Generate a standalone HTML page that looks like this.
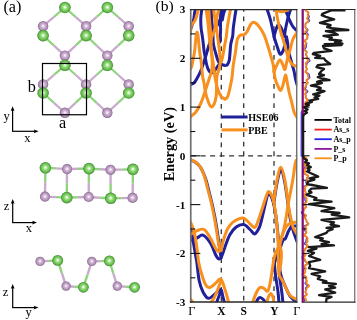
<!DOCTYPE html>
<html><head><meta charset="utf-8"><style>
html,body{margin:0;padding:0;background:#fff;}
body{width:357px;height:320px;overflow:hidden;position:relative;}
svg{position:absolute;left:0;top:0;will-change:transform;}
text{font-family:"Liberation Serif",serif;}
</style></head><body>
<svg width="357" height="320" viewBox="0 0 357 320">
<defs>
<radialGradient id="gG" cx="0.5" cy="0.5" r="0.5" fx="0.5" fy="0.47">
<stop offset="0" stop-color="#ffffff"/><stop offset="0.12" stop-color="#e4f8dc"/><stop offset="0.38" stop-color="#94dc7c"/><stop offset="0.72" stop-color="#6cbf52"/><stop offset="0.9" stop-color="#50a03e"/><stop offset="1" stop-color="#3c7e2e"/>
</radialGradient>
<radialGradient id="gP" cx="0.5" cy="0.5" r="0.5" fx="0.5" fy="0.47">
<stop offset="0" stop-color="#ffffff"/><stop offset="0.12" stop-color="#f2e8f4"/><stop offset="0.38" stop-color="#d0b4d4"/><stop offset="0.72" stop-color="#b494ba"/><stop offset="0.9" stop-color="#987a9e"/><stop offset="1" stop-color="#7c5e84"/>
</radialGradient>
</defs>
<rect width="357" height="320" fill="#fff"/>
<line x1="64.9" y1="7.5" x2="54.0" y2="16.9" stroke="#8fd47c" stroke-width="2.2"/><line x1="54.0" y1="16.9" x2="43.1" y2="26.2" stroke="#c9a9cd" stroke-width="2.2"/><line x1="64.9" y1="7.5" x2="75.5" y2="16.9" stroke="#8fd47c" stroke-width="2.2"/><line x1="75.5" y1="16.9" x2="86.1" y2="26.2" stroke="#c9a9cd" stroke-width="2.2"/><line x1="107.3" y1="7.5" x2="96.7" y2="16.9" stroke="#8fd47c" stroke-width="2.2"/><line x1="96.7" y1="16.9" x2="86.1" y2="26.2" stroke="#c9a9cd" stroke-width="2.2"/><line x1="107.3" y1="7.5" x2="118.0" y2="16.9" stroke="#8fd47c" stroke-width="2.2"/><line x1="118.0" y1="16.9" x2="128.7" y2="26.2" stroke="#c9a9cd" stroke-width="2.2"/><line x1="43.1" y1="35.6" x2="54.0" y2="45.6" stroke="#8fd47c" stroke-width="2.2"/><line x1="54.0" y1="45.6" x2="64.9" y2="55.6" stroke="#c9a9cd" stroke-width="2.2"/><line x1="86.1" y1="35.6" x2="75.5" y2="45.6" stroke="#8fd47c" stroke-width="2.2"/><line x1="75.5" y1="45.6" x2="64.9" y2="55.6" stroke="#c9a9cd" stroke-width="2.2"/><line x1="86.1" y1="35.6" x2="96.7" y2="45.6" stroke="#8fd47c" stroke-width="2.2"/><line x1="96.7" y1="45.6" x2="107.3" y2="55.6" stroke="#c9a9cd" stroke-width="2.2"/><line x1="128.7" y1="35.6" x2="118.0" y2="45.6" stroke="#8fd47c" stroke-width="2.2"/><line x1="118.0" y1="45.6" x2="107.3" y2="55.6" stroke="#c9a9cd" stroke-width="2.2"/><line x1="64.9" y1="65.3" x2="54.0" y2="74.8" stroke="#8fd47c" stroke-width="2.2"/><line x1="54.0" y1="74.8" x2="43.1" y2="84.4" stroke="#c9a9cd" stroke-width="2.2"/><line x1="64.9" y1="65.3" x2="75.5" y2="74.8" stroke="#8fd47c" stroke-width="2.2"/><line x1="75.5" y1="74.8" x2="86.1" y2="84.4" stroke="#c9a9cd" stroke-width="2.2"/><line x1="107.3" y1="65.3" x2="96.7" y2="74.8" stroke="#8fd47c" stroke-width="2.2"/><line x1="96.7" y1="74.8" x2="86.1" y2="84.4" stroke="#c9a9cd" stroke-width="2.2"/><line x1="107.3" y1="65.3" x2="118.0" y2="74.8" stroke="#8fd47c" stroke-width="2.2"/><line x1="118.0" y1="74.8" x2="128.7" y2="84.4" stroke="#c9a9cd" stroke-width="2.2"/><line x1="43.1" y1="93.0" x2="54.0" y2="102.9" stroke="#8fd47c" stroke-width="2.2"/><line x1="54.0" y1="102.9" x2="64.9" y2="112.8" stroke="#c9a9cd" stroke-width="2.2"/><line x1="86.1" y1="93.0" x2="75.5" y2="102.9" stroke="#8fd47c" stroke-width="2.2"/><line x1="75.5" y1="102.9" x2="64.9" y2="112.8" stroke="#c9a9cd" stroke-width="2.2"/><line x1="86.1" y1="93.0" x2="96.7" y2="102.9" stroke="#8fd47c" stroke-width="2.2"/><line x1="96.7" y1="102.9" x2="107.3" y2="112.8" stroke="#c9a9cd" stroke-width="2.2"/><line x1="128.7" y1="93.0" x2="118.0" y2="102.9" stroke="#8fd47c" stroke-width="2.2"/><line x1="118.0" y1="102.9" x2="107.3" y2="112.8" stroke="#c9a9cd" stroke-width="2.2"/><circle cx="43.1" cy="26.2" r="5.2" fill="url(#gP)"/><circle cx="86.1" cy="26.2" r="5.2" fill="url(#gP)"/><circle cx="128.7" cy="26.2" r="5.2" fill="url(#gP)"/><circle cx="64.9" cy="55.6" r="5.2" fill="url(#gP)"/><circle cx="107.3" cy="55.6" r="5.2" fill="url(#gP)"/><circle cx="43.1" cy="84.4" r="5.2" fill="url(#gP)"/><circle cx="86.1" cy="84.4" r="5.2" fill="url(#gP)"/><circle cx="128.7" cy="84.4" r="5.2" fill="url(#gP)"/><circle cx="64.9" cy="112.8" r="5.2" fill="url(#gP)"/><circle cx="107.3" cy="112.8" r="5.2" fill="url(#gP)"/><circle cx="64.9" cy="7.5" r="5.8" fill="url(#gG)"/><circle cx="107.3" cy="7.5" r="5.8" fill="url(#gG)"/><circle cx="43.1" cy="35.6" r="5.8" fill="url(#gG)"/><circle cx="86.1" cy="35.6" r="5.8" fill="url(#gG)"/><circle cx="128.7" cy="35.6" r="5.8" fill="url(#gG)"/><circle cx="64.9" cy="65.3" r="5.8" fill="url(#gG)"/><circle cx="107.3" cy="65.3" r="5.8" fill="url(#gG)"/><circle cx="43.1" cy="93.0" r="5.8" fill="url(#gG)"/><circle cx="86.1" cy="93.0" r="5.8" fill="url(#gG)"/><circle cx="128.7" cy="93.0" r="5.8" fill="url(#gG)"/><rect x="42.5" y="63.5" width="44" height="51.25" fill="none" stroke="#000" stroke-width="1.2"/><line x1="45.4" y1="167.8" x2="45.2" y2="182.2" stroke="#8fd47c" stroke-width="2.4"/><line x1="45.2" y1="182.2" x2="45.0" y2="196.6" stroke="#c9a9cd" stroke-width="2.4"/><line x1="67.1" y1="169.1" x2="66.9" y2="183.3" stroke="#c9a9cd" stroke-width="2.4"/><line x1="66.9" y1="183.3" x2="66.8" y2="197.6" stroke="#8fd47c" stroke-width="2.4"/><line x1="89.0" y1="168.6" x2="88.8" y2="182.8" stroke="#8fd47c" stroke-width="2.4"/><line x1="88.8" y1="182.8" x2="88.7" y2="197.0" stroke="#c9a9cd" stroke-width="2.4"/><line x1="110.5" y1="169.8" x2="110.6" y2="184.1" stroke="#c9a9cd" stroke-width="2.4"/><line x1="110.6" y1="184.1" x2="110.7" y2="198.3" stroke="#8fd47c" stroke-width="2.4"/><line x1="132.9" y1="169.3" x2="132.8" y2="183.6" stroke="#8fd47c" stroke-width="2.4"/><line x1="132.8" y1="183.6" x2="132.6" y2="197.9" stroke="#c9a9cd" stroke-width="2.4"/><line x1="45.4" y1="167.8" x2="56.2" y2="168.4" stroke="#8fd47c" stroke-width="2.4"/><line x1="56.2" y1="168.4" x2="67.1" y2="169.1" stroke="#c9a9cd" stroke-width="2.4"/><line x1="67.1" y1="169.1" x2="78.0" y2="168.8" stroke="#c9a9cd" stroke-width="2.4"/><line x1="78.0" y1="168.8" x2="89.0" y2="168.6" stroke="#8fd47c" stroke-width="2.4"/><line x1="89.0" y1="168.6" x2="99.8" y2="169.2" stroke="#8fd47c" stroke-width="2.4"/><line x1="99.8" y1="169.2" x2="110.5" y2="169.8" stroke="#c9a9cd" stroke-width="2.4"/><line x1="110.5" y1="169.8" x2="121.7" y2="169.6" stroke="#c9a9cd" stroke-width="2.4"/><line x1="121.7" y1="169.6" x2="132.9" y2="169.3" stroke="#8fd47c" stroke-width="2.4"/><line x1="45.0" y1="196.6" x2="55.9" y2="197.1" stroke="#c9a9cd" stroke-width="2.4"/><line x1="55.9" y1="197.1" x2="66.8" y2="197.6" stroke="#8fd47c" stroke-width="2.4"/><line x1="66.8" y1="197.6" x2="77.8" y2="197.3" stroke="#8fd47c" stroke-width="2.4"/><line x1="77.8" y1="197.3" x2="88.7" y2="197.0" stroke="#c9a9cd" stroke-width="2.4"/><line x1="88.7" y1="197.0" x2="99.7" y2="197.7" stroke="#c9a9cd" stroke-width="2.4"/><line x1="99.7" y1="197.7" x2="110.7" y2="198.3" stroke="#8fd47c" stroke-width="2.4"/><line x1="110.7" y1="198.3" x2="121.7" y2="198.1" stroke="#8fd47c" stroke-width="2.4"/><line x1="121.7" y1="198.1" x2="132.6" y2="197.9" stroke="#c9a9cd" stroke-width="2.4"/><circle cx="45.4" cy="167.8" r="5.8" fill="url(#gG)"/><circle cx="67.1" cy="169.1" r="5.1" fill="url(#gP)"/><circle cx="89.0" cy="168.6" r="5.8" fill="url(#gG)"/><circle cx="110.5" cy="169.8" r="5.1" fill="url(#gP)"/><circle cx="132.9" cy="169.3" r="5.8" fill="url(#gG)"/><circle cx="45.0" cy="196.6" r="5.1" fill="url(#gP)"/><circle cx="66.8" cy="197.6" r="5.8" fill="url(#gG)"/><circle cx="88.7" cy="197.0" r="5.1" fill="url(#gP)"/><circle cx="110.7" cy="198.3" r="5.8" fill="url(#gG)"/><circle cx="132.6" cy="197.9" r="5.1" fill="url(#gP)"/><line x1="40.1" y1="261.4" x2="48.9" y2="260.9" stroke="#c9a9cd" stroke-width="2.4"/><line x1="48.9" y1="260.9" x2="57.7" y2="260.4" stroke="#8fd47c" stroke-width="2.4"/><line x1="57.7" y1="260.4" x2="61.9" y2="273.2" stroke="#8fd47c" stroke-width="2.4"/><line x1="61.9" y1="273.2" x2="66.1" y2="286.1" stroke="#c9a9cd" stroke-width="2.4"/><line x1="66.1" y1="286.1" x2="74.8" y2="286.7" stroke="#c9a9cd" stroke-width="2.4"/><line x1="74.8" y1="286.7" x2="83.4" y2="287.3" stroke="#8fd47c" stroke-width="2.4"/><line x1="83.4" y1="287.3" x2="87.6" y2="274.4" stroke="#8fd47c" stroke-width="2.4"/><line x1="87.6" y1="274.4" x2="91.8" y2="261.4" stroke="#c9a9cd" stroke-width="2.4"/><line x1="91.8" y1="261.4" x2="100.6" y2="261.1" stroke="#c9a9cd" stroke-width="2.4"/><line x1="100.6" y1="261.1" x2="109.4" y2="260.9" stroke="#8fd47c" stroke-width="2.4"/><line x1="109.4" y1="260.9" x2="113.3" y2="273.5" stroke="#8fd47c" stroke-width="2.4"/><line x1="113.3" y1="273.5" x2="117.3" y2="286.1" stroke="#c9a9cd" stroke-width="2.4"/><line x1="117.3" y1="286.1" x2="125.9" y2="286.7" stroke="#c9a9cd" stroke-width="2.4"/><line x1="125.9" y1="286.7" x2="134.6" y2="287.3" stroke="#8fd47c" stroke-width="2.4"/><circle cx="40.1" cy="261.4" r="4.7" fill="url(#gP)"/><circle cx="57.7" cy="260.4" r="5.4" fill="url(#gG)"/><circle cx="66.1" cy="286.1" r="4.7" fill="url(#gP)"/><circle cx="83.4" cy="287.3" r="5.4" fill="url(#gG)"/><circle cx="91.8" cy="261.4" r="4.7" fill="url(#gP)"/><circle cx="109.4" cy="260.9" r="5.4" fill="url(#gG)"/><circle cx="117.3" cy="286.1" r="4.7" fill="url(#gP)"/><circle cx="134.6" cy="287.3" r="5.4" fill="url(#gG)"/><g stroke="#000" stroke-width="1.2" fill="none"><line x1="12.6" y1="131.3" x2="12.6" y2="109.3"/><line x1="12.0" y1="131.3" x2="35.6" y2="131.3"/></g><path d="M12.6 106.3 L10.7 111.1 L12.6 110.3 L14.5 111.1 Z" fill="#000"/><path d="M38.6 131.3 L33.8 129.4 L34.6 131.3 L33.8 133.2 Z" fill="#000"/><g stroke="#000" stroke-width="1.2" fill="none"><line x1="12.7" y1="222.6" x2="12.7" y2="202.0"/><line x1="12.1" y1="222.6" x2="34.0" y2="222.6"/></g><path d="M12.7 199.0 L10.8 203.8 L12.7 203.0 L14.6 203.8 Z" fill="#000"/><path d="M37.0 222.6 L32.2 220.7 L33.0 222.6 L32.2 224.5 Z" fill="#000"/><g stroke="#000" stroke-width="1.2" fill="none"><line x1="12.7" y1="307.6" x2="12.7" y2="287.0"/><line x1="12.1" y1="307.6" x2="35.5" y2="307.6"/></g><path d="M12.7 284.0 L10.8 288.8 L12.7 288.0 L14.6 288.8 Z" fill="#000"/><path d="M38.5 307.6 L33.7 305.7 L34.5 307.6 L33.7 309.5 Z" fill="#000"/><g font-size="12.5" fill="#000"><text x="3.4" y="119.6">y</text><text x="24.2" y="141.6">x</text><text x="3.8" y="209.8">z</text><text x="25.8" y="232.3">x</text><text x="2.8" y="296.2">z</text><text x="25.5" y="316.4">y</text></g><g font-size="16.2" fill="#000"><text x="3.4" y="11.6">(a)</text><text x="155.6" y="11.2" font-size="15.6">(b)</text><text x="27.8" y="91.5">b</text><text x="58.9" y="127.9">a</text></g><g stroke="#333" stroke-width="1.3" fill="none"><line x1="221.3" y1="9.5" x2="221.3" y2="302.2" stroke-dasharray="4.8 4.83" stroke-dashoffset="1.8"/><line x1="243.7" y1="9.5" x2="243.7" y2="302.2" stroke-dasharray="4.8 4.83" stroke-dashoffset="2.6"/><line x1="274.0" y1="9.5" x2="274.0" y2="302.2" stroke-dasharray="4.8 4.83" stroke-dashoffset="2.6"/><line x1="190.5" y1="155.9" x2="297.2" y2="155.9" stroke-dasharray="5 4.5" stroke-dashoffset="8.9"/></g><clipPath id="bclip"><rect x="190.5" y="9.5" width="106.7" height="292.7"/></clipPath><g fill="none" stroke-width="3.0" stroke-linecap="round" stroke-linejoin="round" clip-path="url(#bclip)"><path d="M190.5 159.6 C191.3 160.1 193.9 161.1 195.5 162.3 C197.1 163.5 198.8 165.0 200.2 166.9 C201.5 168.8 202.6 171.2 203.6 173.5 C204.6 175.8 205.4 178.0 206.3 181.0 C207.2 184.0 207.9 187.0 209.0 191.5 C210.1 196.0 211.7 202.1 213.0 208.0 C214.3 213.9 215.6 221.0 216.6 227.0 C217.6 233.0 218.4 239.5 219.0 244.0 C219.6 248.5 220.0 251.8 220.4 254.0 C220.8 256.2 221.2 256.9 221.3 257.5" stroke="#20209a"/><path d="M190.5 240.8 C191.5 240.3 194.7 239.2 196.8 238.2 C198.8 237.3 200.7 234.3 203.0 235.1 C205.3 235.9 208.4 240.0 210.5 243.2 C212.6 246.5 214.2 251.9 215.5 254.5 C216.8 257.1 217.6 258.5 218.6 258.9 C219.6 259.3 220.2 259.0 221.3 257.0 C222.4 255.0 223.6 250.8 225.0 247.0 C226.4 243.2 228.1 237.8 230.0 234.5 C231.9 231.2 234.0 228.7 236.2 227.0 C238.5 225.3 241.5 224.1 243.8 224.5 C246.0 224.9 248.2 227.9 250.0 229.5 C251.8 231.1 253.2 233.7 254.4 233.9 C255.7 234.1 256.6 232.1 257.5 230.8 C258.4 229.4 259.1 228.5 260.0 225.8 C260.9 223.0 262.0 218.1 263.0 214.0 C264.0 209.9 265.1 204.4 266.0 201.0 C266.9 197.6 267.3 194.2 268.2 193.5 C269.1 192.8 270.6 195.2 271.5 197.0 C272.4 198.8 273.4 202.8 273.8 204.0" stroke="#20209a"/><path d="M190.5 226.0 C190.9 228.3 192.2 235.2 193.0 240.0 C193.8 244.8 194.9 251.3 195.5 255.0 C196.1 258.7 196.1 257.7 196.8 262.0 C197.4 266.3 198.2 275.8 199.2 280.8 C200.3 285.8 201.5 289.1 203.0 292.0 C204.5 294.9 206.3 297.6 208.0 298.2 C209.7 298.9 211.1 297.1 213.0 295.8 C214.9 294.4 217.9 291.1 219.2 290.1 C220.6 289.1 220.8 289.3 221.3 290.0 C221.8 290.7 221.9 292.3 222.4 294.5 C222.9 296.7 224.2 301.6 224.5 303.0" stroke="#20209a"/><path d="M216.5 303.0 C216.9 301.8 218.2 298.0 219.0 296.0 C219.8 294.0 220.9 291.8 221.3 291.0" stroke="#20209a"/><path d="M256.0 303.0 C256.3 302.3 257.3 299.9 258.0 299.0 C258.7 298.1 259.0 297.2 260.0 297.4 C261.0 297.6 263.0 299.1 263.9 300.0 C264.8 300.9 265.2 302.5 265.5 303.0" stroke="#20209a"/><path d="M273.8 204.0 C274.3 200.5 275.8 188.7 277.0 183.0 C278.2 177.3 279.6 170.0 280.9 170.0 C282.2 170.0 283.7 177.0 284.9 183.0 C286.1 189.0 287.3 199.8 288.2 206.0 C289.1 212.2 289.7 216.0 290.5 220.0 C291.3 224.0 291.9 226.3 293.0 230.0 C294.1 233.7 296.5 240.0 297.2 242.0" stroke="#20209a"/><path d="M273.8 266.0 C274.2 264.7 275.1 260.7 276.0 258.0 C276.9 255.3 278.3 253.0 279.5 250.0 C280.7 247.0 282.0 241.9 283.0 240.0 C284.0 238.1 284.4 240.3 285.3 238.8 C286.2 237.3 287.5 233.0 288.6 230.9 C289.7 228.8 290.6 227.2 292.0 226.4 C293.4 225.6 296.3 226.1 297.2 226.0" stroke="#20209a"/><path d="M273.8 204.0 C274.1 206.0 275.2 211.2 275.9 216.0 C276.6 220.8 277.3 227.8 277.8 233.0 C278.3 238.2 278.6 242.5 278.8 247.0 C279.1 251.5 279.1 255.8 279.3 260.0 C279.5 264.2 279.7 268.7 280.2 272.0 C280.7 275.3 281.5 277.3 282.5 280.0 C283.5 282.7 284.8 285.3 286.0 288.0 C287.2 290.7 288.1 293.5 290.0 296.0 C291.9 298.5 296.0 301.8 297.2 303.0" stroke="#20209a"/><path d="M273.8 258.0 C273.9 259.3 274.3 263.2 274.6 266.0 C274.9 268.8 274.9 270.7 275.5 275.0 C276.1 279.3 277.4 287.3 278.0 292.0 C278.6 296.7 278.8 301.2 279.0 303.0" stroke="#20209a"/><path d="M279.6 277.0 C279.9 279.2 280.9 285.7 281.5 290.0 C282.1 294.3 282.8 300.8 283.0 303.0" stroke="#20209a"/><path d="M195.5 9.5 C195.4 9.9 195.0 10.2 194.7 12.0 C194.4 13.8 194.1 17.5 193.6 20.0 C193.1 22.5 192.0 25.5 191.5 27.0 C191.0 28.5 190.7 28.7 190.5 29.0" stroke="#20209a"/><path d="M201.8 9.5 C201.6 10.9 200.9 14.9 200.8 18.0 C200.7 21.1 200.8 25.0 201.1 28.0 C201.3 31.0 201.9 33.3 202.3 36.0 C202.7 38.7 203.0 41.3 203.3 44.0 C203.6 46.7 203.9 49.8 204.2 52.0 C204.5 54.2 204.9 55.1 205.2 57.1 C205.6 59.1 206.0 61.9 206.5 64.0 C207.0 66.2 207.7 68.5 208.5 70.0 C209.3 71.5 210.3 72.8 211.2 73.0 C212.2 73.2 213.1 72.3 214.0 71.5 C214.9 70.7 215.7 69.2 216.5 68.0 C217.3 66.8 218.6 65.1 219.0 64.5" stroke="#20209a"/><path d="M190.5 84.5 C191.1 84.2 192.7 84.4 194.0 83.0 C195.3 81.6 197.1 78.3 198.3 76.0 C199.6 73.7 200.3 72.2 201.5 69.0 C202.7 65.8 204.2 61.0 205.5 57.0 C206.8 53.0 207.8 48.8 209.0 45.0 C210.2 41.2 211.3 37.2 212.4 34.5 C213.5 31.8 214.5 30.4 215.5 28.5 C216.5 26.6 217.6 24.9 218.5 23.0 C219.4 21.1 220.3 18.8 221.0 17.0 C221.7 15.2 222.1 13.2 222.5 12.0 C222.9 10.8 223.1 9.9 223.2 9.5" stroke="#20209a"/><path d="M211.3 9.5 C211.4 11.2 211.4 16.9 211.6 20.0 C211.8 23.1 212.4 25.3 212.6 28.0 C212.8 30.7 212.9 33.3 213.0 36.0 C213.1 38.7 212.9 41.0 213.4 44.0 C213.9 47.0 215.1 51.1 215.9 54.0 C216.7 56.9 217.6 59.8 218.4 61.5 C219.2 63.2 220.2 63.4 221.0 64.0 C221.8 64.6 222.5 64.8 223.2 65.0 C223.9 65.2 225.0 65.4 225.3 65.5 C225.7 65.6 224.9 65.7 225.3 65.5 C225.7 65.3 226.8 65.4 227.5 64.5 C228.2 63.6 228.9 62.1 229.3 60.0 C229.7 57.9 229.8 54.7 230.1 52.0 C230.3 49.3 230.4 46.7 230.8 44.0 C231.2 41.3 232.3 38.7 232.7 36.0 C233.1 33.3 233.0 30.7 233.3 28.0 C233.6 25.3 234.0 22.7 234.4 20.0 C234.8 17.3 235.3 13.8 235.6 12.0 C235.9 10.2 235.9 9.9 236.0 9.5" stroke="#20209a"/><path d="M221.0 9.5 C220.9 10.6 220.7 13.6 220.6 16.0 C220.5 18.4 220.5 21.7 220.5 24.0 C220.5 26.3 220.6 28.0 220.6 30.0 C220.6 32.0 220.4 34.0 220.3 36.0 C220.2 38.0 219.9 41.0 219.8 42.0" stroke="#20209a"/><path d="M225.0 9.5 C224.8 10.2 223.9 12.2 223.5 14.0 C223.1 15.8 222.5 19.0 222.3 20.0" stroke="#20209a"/><path d="M267.2 9.5 C267.8 11.2 269.5 15.9 270.5 20.0 C271.5 24.1 272.8 30.7 273.5 34.0 C274.2 37.3 274.4 38.0 275.0 40.0 C275.6 42.0 276.2 43.7 277.0 46.0 C277.8 48.3 279.0 53.2 280.0 54.0 C281.0 54.8 282.2 52.7 283.0 51.0 C283.8 49.3 284.4 46.3 285.0 44.0 C285.6 41.7 286.2 38.2 286.5 37.0" stroke="#20209a"/><path d="M274.0 37.0 C274.3 35.8 275.2 31.6 276.0 29.5 C276.8 27.4 277.7 24.8 278.5 24.5 C279.3 24.2 280.2 26.2 281.0 27.5 C281.8 28.8 282.4 30.5 283.0 32.0 C283.6 33.5 284.2 35.8 284.5 36.5" stroke="#20209a"/><path d="M290.5 9.5 C290.2 10.6 289.2 13.6 288.5 16.0 C287.8 18.4 287.1 21.3 286.5 24.0 C285.9 26.7 285.3 29.9 285.0 32.0 C284.7 34.1 284.6 35.8 284.5 36.5" stroke="#20209a"/><path d="M285.0 9.5 C285.4 10.4 286.8 13.2 287.5 15.0 C288.2 16.8 288.7 18.2 289.5 20.0 C290.3 21.8 291.4 24.3 292.5 26.0 C293.6 27.7 295.2 29.2 296.0 30.0 C296.8 30.8 297.0 30.8 297.2 31.0" stroke="#20209a"/><path d="M286.5 37.0 C286.7 37.8 287.1 39.3 287.5 42.0 C287.9 44.7 288.2 49.3 289.0 53.0 C289.8 56.7 291.2 61.0 292.0 64.0 C292.8 67.0 293.4 68.5 294.0 71.0 C294.6 73.5 295.0 76.7 295.5 79.0 C296.0 81.3 296.9 84.0 297.2 85.0" stroke="#20209a"/><path d="M190.5 159.6 C191.3 160.0 193.9 160.8 195.5 161.9 C197.1 163.0 198.7 164.5 199.9 166.3 C201.2 168.1 202.1 170.2 203.0 172.5 C203.9 174.8 204.7 177.1 205.5 180.0 C206.3 182.9 206.9 185.7 208.0 190.0 C209.1 194.3 210.8 200.3 212.0 206.0 C213.2 211.7 214.5 218.3 215.5 224.0 C216.5 229.7 217.3 236.0 218.0 240.0 C218.7 244.0 218.9 246.2 219.5 248.0 C220.1 249.8 221.0 250.1 221.3 250.5" stroke="#f7901e"/><path d="M190.5 234.5 C191.5 233.9 194.5 231.6 196.8 230.8 C199.0 230.0 202.0 228.2 204.2 229.5 C206.5 230.8 208.6 235.2 210.5 238.3 C212.4 241.4 214.2 246.1 215.5 248.3 C216.8 250.5 217.5 251.4 218.5 251.5 C219.5 251.6 220.4 251.1 221.3 249.0 C222.2 246.9 222.7 242.3 223.8 239.0 C224.8 235.7 226.0 231.8 227.5 229.0 C229.0 226.2 230.6 224.2 232.5 222.5 C234.4 220.8 236.9 219.5 238.8 218.8 C240.6 218.1 242.1 217.5 243.8 218.1 C245.4 218.7 247.0 220.9 248.8 222.5 C250.5 224.1 252.9 227.5 254.4 227.5 C255.9 227.5 256.4 225.1 257.5 222.5 C258.6 219.9 260.0 215.6 261.2 211.8 C262.5 208.1 263.8 203.4 265.0 200.0 C266.2 196.6 267.1 192.4 268.2 191.6 C269.3 190.8 270.6 193.3 271.5 195.0 C272.4 196.7 273.4 200.8 273.8 202.0" stroke="#f7901e"/><path d="M190.5 222.0 C191.1 223.7 193.2 227.8 194.2 232.0 C195.3 236.2 196.0 242.0 196.8 247.0 C197.5 252.0 197.8 257.4 198.6 262.0 C199.4 266.6 200.6 270.8 201.8 274.5 C202.9 278.2 204.2 282.3 205.5 284.5 C206.8 286.7 207.8 287.6 209.2 287.6 C210.7 287.6 212.6 285.9 214.2 284.5 C215.9 283.1 218.1 280.3 219.2 279.5 C220.4 278.7 220.7 278.9 221.3 279.5 C221.9 280.1 222.4 281.6 223.0 283.3 C223.6 285.0 224.2 287.1 225.0 289.5 C225.8 291.9 226.9 295.8 227.5 298.0 C228.1 300.2 228.4 302.2 228.6 303.0" stroke="#f7901e"/><path d="M210.5 303.0 C211.1 302.2 212.8 300.2 214.0 298.0 C215.2 295.8 216.3 293.0 217.5 290.0 C218.7 287.0 220.7 281.7 221.3 280.0" stroke="#f7901e"/><path d="M190.5 299.3 C190.8 299.6 191.5 300.2 192.0 301.0 C192.5 301.8 193.2 303.5 193.5 304.0" stroke="#f7901e"/><path d="M252.5 303.0 C253.1 301.4 254.8 296.1 256.0 293.5 C257.2 290.9 258.6 288.5 259.9 287.6 C261.2 286.7 262.6 287.8 263.9 288.3 C265.2 288.9 266.7 292.0 267.8 290.9 C268.9 289.8 269.6 285.4 270.4 281.7 C271.2 278.0 271.8 272.4 272.4 268.6 C273.0 264.8 273.6 260.6 273.8 259.0" stroke="#f7901e"/><path d="M273.8 202.0 C274.3 198.3 275.8 185.8 277.0 180.0 C278.2 174.2 279.6 167.2 280.9 167.2 C282.2 167.2 283.7 173.9 284.9 180.0 C286.1 186.1 287.3 197.8 288.2 204.0 C289.1 210.2 289.7 213.2 290.5 217.0 C291.3 220.8 291.9 224.1 293.0 227.0 C294.1 229.9 296.5 233.2 297.2 234.5" stroke="#f7901e"/><path d="M273.8 259.0 C274.2 257.8 275.1 254.4 276.0 252.0 C276.9 249.6 278.5 247.1 279.5 244.5 C280.5 241.9 281.0 239.7 281.9 236.5 C282.8 233.3 283.6 230.7 284.7 225.3 C285.8 219.9 286.9 211.6 288.2 204.0 C289.5 196.4 291.6 186.9 292.8 180.0 C293.9 173.1 294.7 166.0 295.4 162.6 C296.1 159.2 296.9 160.1 297.2 159.6" stroke="#f7901e"/><path d="M273.8 202.0 C274.1 204.0 275.1 209.2 275.7 214.0 C276.3 218.8 277.0 225.8 277.4 231.0 C277.8 236.2 278.0 240.5 278.2 245.0 C278.4 249.5 278.2 253.2 278.3 258.0 C278.4 262.8 278.4 270.1 278.9 273.6 C279.4 277.1 280.6 277.3 281.5 279.0 C282.4 280.7 282.8 281.3 284.0 283.8 C285.2 286.3 287.5 291.7 289.0 294.0 C290.5 296.3 291.6 296.6 293.0 297.5 C294.4 298.4 296.5 299.2 297.2 299.5" stroke="#f7901e"/><path d="M279.6 246.0 C280.0 244.3 280.9 239.3 282.0 236.0 C283.1 232.7 284.9 228.6 286.4 226.4 C287.9 224.2 289.1 223.7 290.9 223.0 C292.7 222.3 296.1 222.4 297.2 222.3" stroke="#f7901e"/><path d="M279.5 244.5 C279.8 245.8 281.1 249.1 281.3 252.0 C281.6 254.9 281.3 259.0 281.0 262.0 C280.7 265.0 280.0 268.0 279.6 270.0 C279.2 272.0 279.0 273.3 278.9 274.0" stroke="#f7901e"/><path d="M266.5 303.0 C266.9 301.9 267.9 298.1 268.6 296.5 C269.4 294.9 270.3 293.5 271.0 293.6 C271.7 293.8 272.5 295.8 273.0 297.4 C273.5 299.0 273.8 302.1 274.0 303.0" stroke="#f7901e"/><path d="M190.3 34.0 C190.4 33.0 190.7 29.6 190.9 28.0 C191.2 26.4 191.4 25.4 191.8 24.5 C192.2 23.6 192.9 23.2 193.5 22.5 C194.1 21.8 194.8 21.1 195.3 20.0 C195.8 18.9 196.2 17.4 196.6 16.0 C197.0 14.6 197.5 12.7 197.8 11.5 C198.1 10.3 198.3 9.4 198.4 9.0" stroke="#f7901e"/><path d="M190.5 69.0 C190.7 68.5 191.4 67.5 191.8 66.0 C192.2 64.5 192.6 62.3 193.0 60.0 C193.4 57.7 194.1 54.7 194.5 52.0 C194.9 49.3 195.1 46.5 195.3 44.0 C195.6 41.5 195.8 38.9 196.0 37.0 C196.2 35.1 196.5 33.0 196.8 32.5 C197.1 32.0 197.5 32.1 197.8 34.0 C198.2 35.9 198.6 41.0 198.9 44.0 C199.2 47.0 199.3 49.3 199.7 52.0 C200.0 54.7 200.6 57.0 201.0 60.0 C201.4 63.0 201.7 67.1 202.0 70.0 C202.3 72.9 202.4 75.1 202.8 77.4 C203.2 79.7 203.8 81.5 204.2 84.0 C204.6 86.5 204.8 89.4 205.5 92.5 C206.2 95.6 207.7 100.1 208.6 102.5 C209.5 104.9 210.2 106.7 211.1 106.9 C212.0 107.1 213.4 105.6 214.2 103.8 C215.1 101.9 215.8 99.0 216.2 96.0 C216.6 93.0 216.4 89.3 216.5 86.0 C216.6 82.7 216.6 78.7 217.0 76.0 C217.4 73.3 218.2 72.3 218.8 70.0 C219.4 67.7 220.2 65.0 220.3 62.0 C220.4 59.0 219.9 55.0 219.6 52.0 C219.3 49.0 218.9 46.7 218.6 44.0 C218.2 41.3 217.8 38.7 217.5 36.0 C217.2 33.3 216.8 30.7 216.6 28.0 C216.4 25.3 216.4 22.7 216.6 20.0 C216.8 17.3 217.6 13.8 218.0 12.0 C218.4 10.2 218.7 9.9 218.8 9.5" stroke="#f7901e"/><path d="M190.5 116.5 C191.3 115.8 193.8 114.6 195.5 112.5 C197.2 110.4 199.0 107.1 200.5 104.0 C202.0 100.9 203.1 97.3 204.2 94.0 C205.4 90.7 206.6 86.7 207.5 84.0 C208.4 81.3 208.8 79.9 209.4 78.0 C210.0 76.1 210.8 74.5 211.2 72.5 C211.7 70.5 212.1 68.4 212.2 66.0 C212.3 63.6 212.2 60.7 212.0 58.0 C211.8 55.3 211.3 52.3 211.0 50.0 C210.7 47.7 210.3 46.3 210.0 44.0 C209.7 41.7 209.4 38.7 209.2 36.0 C208.9 33.3 208.8 30.7 208.5 28.0 C208.2 25.3 207.9 22.7 207.6 20.0 C207.3 17.3 206.7 13.8 206.5 12.0 C206.3 10.2 206.2 9.9 206.2 9.5" stroke="#f7901e"/><path d="M208.9 9.5 C209.0 11.2 209.3 16.9 209.5 20.0 C209.7 23.1 210.0 25.3 210.2 28.0 C210.4 30.7 210.7 33.3 210.8 36.0 C210.9 38.7 210.8 41.0 211.0 44.0 C211.2 47.0 211.4 50.8 211.8 54.0 C212.2 57.2 212.8 60.3 213.2 63.0 C213.6 65.7 213.6 67.2 214.0 70.0 C214.4 72.8 214.8 76.7 215.5 80.0 C216.2 83.3 217.1 87.3 218.0 90.0 C218.9 92.7 220.1 94.8 221.1 96.3 C222.1 97.8 223.5 98.3 224.2 98.8 C225.0 99.3 224.8 99.6 225.4 99.1 C226.0 98.6 227.1 98.2 227.9 96.0 C228.7 93.8 229.7 89.3 230.4 86.0 C231.1 82.7 231.8 79.0 232.2 76.0 C232.6 73.0 232.6 70.7 232.9 68.0 C233.2 65.3 233.7 62.7 234.1 60.0 C234.5 57.3 235.1 54.7 235.5 52.0 C235.9 49.3 236.2 46.2 236.5 44.0 C236.8 41.8 236.9 40.0 237.6 38.5 C238.3 37.0 239.7 35.5 240.8 34.9 C241.8 34.3 242.9 35.4 243.9 34.9 C244.9 34.4 245.9 33.5 247.0 31.8 C248.1 30.0 249.5 25.8 250.8 24.2 C252.0 22.7 253.2 22.2 254.5 22.4 C255.8 22.6 256.8 23.7 258.2 25.5 C259.7 27.3 262.0 30.6 263.2 33.0 C264.5 35.4 264.9 36.7 266.0 40.0 C267.1 43.3 268.8 49.0 270.0 53.0 C271.2 57.0 272.3 60.9 273.0 64.0 C273.7 67.1 273.8 70.2 274.0 71.5" stroke="#f7901e"/><path d="M213.8 9.5 C213.9 10.6 214.3 13.9 214.5 16.0 C214.7 18.1 215.1 20.0 215.2 22.0 C215.3 24.0 215.3 26.2 215.0 28.0 C214.7 29.8 214.1 31.3 213.5 33.0 C212.9 34.7 211.9 36.2 211.5 38.0 C211.1 39.8 210.9 43.0 210.8 44.0" stroke="#f7901e"/><path d="M221.3 62.0 C221.6 60.8 222.4 58.0 223.0 55.0 C223.6 52.0 224.3 47.2 224.9 44.0 C225.5 40.8 226.0 38.7 226.4 36.0 C226.8 33.3 226.8 30.7 227.2 28.0 C227.5 25.3 228.0 22.7 228.5 20.0 C229.0 17.3 229.6 13.8 230.0 12.0 C230.4 10.2 230.7 9.9 230.8 9.5" stroke="#f7901e"/><path d="M274.0 71.5 C274.2 72.9 274.8 77.5 275.5 80.0 C276.2 82.5 277.2 84.5 278.0 86.2 C278.8 88.0 279.7 90.8 280.5 90.6 C281.3 90.4 282.2 87.6 283.0 85.0 C283.8 82.4 284.8 75.2 285.5 75.0 C286.2 74.8 286.9 81.1 287.5 84.0 C288.1 86.9 288.5 89.4 289.2 92.5 C290.0 95.6 290.9 99.2 291.8 102.5 C292.6 105.8 293.3 110.0 294.2 112.5 C295.2 115.0 296.7 116.7 297.2 117.5" stroke="#f7901e"/><path d="M274.0 71.5 C274.5 70.5 275.9 67.1 276.8 65.2 C277.6 63.4 278.5 61.2 279.2 60.5 C279.9 59.8 280.4 60.2 281.0 61.0 C281.6 61.8 282.4 63.8 283.0 65.2 C283.6 66.7 284.3 69.9 284.9 69.5 C285.5 69.1 286.0 65.1 286.5 63.0 C287.0 60.9 287.3 59.5 288.0 57.0 C288.7 54.5 289.7 51.0 290.5 48.0 C291.3 45.0 291.9 41.6 293.0 39.0 C294.1 36.4 296.5 33.6 297.2 32.5" stroke="#f7901e"/><path d="M276.0 9.5 C276.3 11.4 277.2 17.1 278.0 21.0 C278.8 24.9 280.2 30.0 281.0 33.0 C281.8 36.0 282.2 36.5 283.0 39.0 C283.8 41.5 284.7 45.0 285.5 48.0 C286.3 51.0 287.2 54.7 288.0 57.0 C288.8 59.3 289.7 60.7 290.5 62.0 C291.3 63.3 291.9 64.2 293.0 65.0 C294.1 65.8 296.5 66.2 297.2 66.5" stroke="#f7901e"/><path d="M275.8 9.5 C276.2 9.8 277.6 10.6 278.5 11.0 C279.4 11.4 280.1 11.8 281.0 11.8 C281.9 11.9 283.1 11.6 284.0 11.3 C284.9 11.1 285.8 10.6 286.5 10.3 C287.2 10.0 288.2 9.6 288.5 9.5" stroke="#f7901e"/></g><g fill="none"><line x1="190.75" y1="9.00" x2="190.75" y2="302.70" stroke="#707070" stroke-width="1.7"/><line x1="296.70" y1="9.00" x2="296.70" y2="302.70" stroke="#707070" stroke-width="1.4"/><line x1="189.90" y1="9.55" x2="297.40" y2="9.55" stroke="#2a2a2a" stroke-width="1.2"/><line x1="189.90" y1="302.05" x2="297.40" y2="302.05" stroke="#2a2a2a" stroke-width="1.4"/></g><g stroke="#111" stroke-width="1.1"><line x1="190.5" y1="277.8" x2="195.3" y2="277.8"/><line x1="190.5" y1="253.4" x2="200.3" y2="253.4"/><line x1="190.5" y1="229.0" x2="195.3" y2="229.0"/><line x1="190.5" y1="204.6" x2="200.3" y2="204.6"/><line x1="190.5" y1="180.2" x2="195.3" y2="180.2"/><line x1="190.5" y1="155.8" x2="200.3" y2="155.8"/><line x1="190.5" y1="131.5" x2="195.3" y2="131.5"/><line x1="190.5" y1="107.1" x2="200.3" y2="107.1"/><line x1="190.5" y1="82.7" x2="195.3" y2="82.7"/><line x1="190.5" y1="58.3" x2="200.3" y2="58.3"/><line x1="190.5" y1="33.9" x2="195.3" y2="33.9"/></g><line x1="221.5" y1="117.0" x2="247.6" y2="117.0" stroke="#20209a" stroke-width="3.0"/><line x1="221.5" y1="129.9" x2="247.6" y2="129.9" stroke="#f7901e" stroke-width="3.0"/><g font-weight="bold" font-size="10.1" fill="#000"><text x="248.2" y="120.5">HSE06</text><text x="248.2" y="133.5">PBE</text></g><g font-weight="bold" font-size="11.2" fill="#000" text-anchor="end"><text x="185.3" y="13.4">3</text><text x="185.3" y="62.2">2</text><text x="185.3" y="111.0">1</text><text x="185.3" y="159.8">0</text><text x="185.3" y="208.5">-1</text><text x="185.3" y="257.3">-2</text><text x="185.3" y="306.1">-3</text></g><g font-weight="bold" font-size="11.5" fill="#000" text-anchor="middle"><text x="221.3" y="314.5">X</text><text x="243.8" y="314.5">S</text><text x="274.3" y="314.5">Y</text></g><g font-size="12.3" fill="#000" text-anchor="middle"><text x="191.7" y="314.8">Γ</text><text x="296.7" y="314.8">Γ</text></g><text transform="translate(174.1,144.1) rotate(-90)" text-anchor="middle" font-weight="bold" font-size="14.3" fill="#000">Energy (eV)</text><g fill="none"><line x1="302.5" y1="9.0" x2="302.5" y2="302.7" stroke="#707070" stroke-width="1.5"/><line x1="354.7" y1="9.0" x2="354.7" y2="302.7" stroke="#808080" stroke-width="1.4"/><line x1="301.8" y1="9.55" x2="355.4" y2="9.55" stroke="#2a2a2a" stroke-width="1.1"/><line x1="301.8" y1="302.1" x2="355.4" y2="302.1" stroke="#2a2a2a" stroke-width="1.3"/></g><g fill="none" stroke-linejoin="round"><path d="M304.9 10.0 L305.6 10.7 L306.9 11.4 L308.0 12.1 L308.5 12.8 L308.5 13.5 L308.3 14.2 L308.4 14.9 L308.8 15.6 L309.2 16.3 L309.2 17.0 L308.8 17.7 L308.5 18.4 L308.6 19.1 L309.1 19.8 L309.5 20.5 L309.3 21.2 L308.3 21.9 L306.9 22.6 L305.8 23.3 L305.3 24.0 L305.3 24.7 L305.4 25.4 L305.3 26.1 L305.3 26.8 L305.5 27.5 L306.2 28.2 L307.2 28.9 L307.9 29.6 L307.8 30.3 L307.3 31.0 L306.7 31.7 L306.6 32.4 L307.1 33.1 L307.8 33.8 L308.2 34.5 L308.0 35.2 L307.7 35.9 L307.5 36.6 L307.5 37.3 L307.5 38.0 L307.0 38.7 L306.1 39.4 L305.1 40.1 L304.6 40.8 L304.9 41.5 L305.7 42.2 L306.5 42.9 L306.8 43.6 L306.6 44.3 L306.3 45.0 L306.2 45.7 L306.3 46.4 L306.3 47.1 L305.9 47.8 L305.2 48.5 L304.7 49.2 L304.8 49.9 L305.6 50.6 L306.4 51.3 L306.8 52.0 L306.6 52.7 L306.0 53.4 L305.7 54.1 L305.8 54.8 L306.3 55.5 L306.7 56.2 L306.9 56.9 L307.0 57.6 L307.4 58.3 L308.3 59.0 L309.3 59.7 L309.9 60.4 L309.7 61.1 L308.7 61.8 L307.7 62.5 L307.0 63.2 L306.8 63.9 L306.8 64.6 L306.7 65.3 L306.3 66.0 L305.9 66.7 L305.9 67.4 L306.3 68.1 L306.8 68.8 L306.8 69.5 L306.4 70.2 L305.8 70.9 L305.6 71.6 L306.2 72.3 L307.4 73.0 L308.5 73.7 L309.2 74.4 L309.3 75.1 L309.4 75.8 L309.5 76.5 L309.8 77.2 L309.7 77.9 L309.0 78.6 L307.9 79.3 L306.9 80.0 L306.5 80.7 L306.9 81.4 L307.4 82.1 L307.6 82.8 L307.3 83.5 L306.6 84.2 L306.1 84.9 L306.0 85.6 L306.1 86.3 L306.1 87.0 L305.8 87.7 L305.4 88.4 L305.5 89.1 L306.1 89.8 L307.0 90.5 L307.7 91.2 L307.7 91.9 L306.9 92.6 L306.1 93.3 L305.6 94.0 L305.6 94.7 L305.7 95.4 L305.8 96.1 L305.6 96.8 L305.5 97.5 L306.0 98.2 L306.8 98.9 L307.7 99.6 L308.0 100.3 L307.6 101.0 L306.8 101.7 L306.3 102.4 L306.3 103.1 L306.7 103.8 L304.7 107.0 L301.3 112.0 L301.2 156.0 L305.0 158.0 L305.8 158.7 L306.0 159.4 L306.2 160.1 L306.6 160.8 L307.1 161.5 L307.2 162.2 L306.6 162.9 L305.5 163.6 L304.5 164.3 L304.1 165.0 L304.4 165.7 L305.0 166.4 L305.2 167.1 L304.8 167.8 L304.1 168.5 L303.5 169.2 L303.4 169.9 L303.6 170.6 L303.7 171.3 L303.5 172.0 L303.4 172.7 L303.7 173.4 L304.8 174.1 L306.4 174.8 L307.7 175.5 L308.2 176.2 L307.8 176.9 L307.2 177.6 L306.8 178.3 L306.8 179.0 L307.0 179.7 L306.8 180.4 L306.3 181.1 L305.8 181.8 L305.8 182.5 L306.3 183.2 L306.8 183.9 L306.8 184.6 L306.0 185.3 L304.8 186.0 L304.0 186.7 L303.8 187.4 L304.3 188.1 L304.9 188.8 L305.1 189.5 L305.0 190.2 L305.0 190.9 L305.3 191.6 L305.8 192.3 L305.9 193.0 L305.4 193.7 L304.2 194.4 L303.2 195.1 L302.8 195.8 L303.3 196.5 L304.1 197.2 L304.8 197.9 L305.0 198.6 L304.8 199.3 L304.9 200.0 L305.2 200.7 L305.7 201.4 L305.7 202.1 L305.2 202.8 L304.5 203.5 L304.2 204.2 L304.6 204.9 L305.5 205.6 L306.2 206.3 L306.1 207.0 L305.3 207.7 L304.3 208.4 L303.5 209.1 L303.1 209.8 L302.8 210.5 L302.3 211.2 L301.6 211.9 L301.5 212.6 L301.6 213.3 L302.7 214.0 L304.0 214.7 L304.9 215.4 L305.0 216.1 L304.6 216.8 L304.4 217.5 L304.8 218.2 L305.5 218.9 L306.2 219.6 L306.5 220.3 L306.5 221.0 L306.5 221.7 L307.0 222.4 L307.6 223.1 L307.8 223.8 L307.2 224.5 L305.9 225.2 L304.5 225.9 L303.8 226.6 L303.8 227.3 L304.3 228.0 L304.7 228.7 L304.8 229.4 L304.7 230.1 L304.9 230.8 L305.5 231.5 L306.1 232.2 L306.2 232.9 L305.6 233.6 L304.8 234.3 L304.4 235.0 L304.8 235.7 L305.7 236.4 L306.6 237.1 L306.9 237.8 L306.6 238.5 L306.2 239.2 L306.0 239.9 L306.0 240.6 L306.1 241.3 L305.7 242.0 L305.0 242.7 L304.5 243.4 L304.7 244.1 L305.7 244.8 L306.8 245.5 L307.4 246.2 L307.2 246.9 L306.4 247.6 L305.6 248.3 L305.2 249.0 L305.0 249.7 L304.7 250.4 L304.1 251.1 L303.3 251.8 L302.8 252.5 L303.0 253.2 L303.7 253.9 L304.2 254.6 L304.0 255.3 L303.1 256.0 L302.3 256.7 L302.0 257.4 L302.4 258.1 L303.3 258.8 L304.1 259.5 L304.5 260.2 L304.9 260.9 L305.5 261.6 L306.4 262.3 L307.2 263.0 L307.4 263.7 L306.7 264.4 L305.4 265.1 L304.4 265.8 L304.1 266.5 L304.3 267.2 L304.7 267.9 L304.6 268.6 L304.1 269.3 L303.6 270.0 L303.5 270.7 L303.6 271.4 L303.8 272.1 L303.4 272.8 L302.8 273.5 L302.3 274.2 L302.5 274.9 L303.6 275.6 L305.1 276.3 L306.2 277.0 L306.5 277.7 L306.4 278.4 L306.2 279.1 L306.2 279.8 L306.4 280.5 L306.4 281.2 L305.9 281.9 L305.2 282.6 L305.0 283.3 L305.4 284.0 L306.4 284.7 L307.2 285.4 L307.4 286.1 L306.8 286.8 L306.0 287.5 L305.5 288.2 L305.6 288.9 L305.9 289.6 L305.9 290.3 L305.6 291.0 L305.4 291.7 L305.5 292.4 L306.1 293.1 L306.7 293.8 L306.7 294.5 L305.8 295.2 L304.5 295.9 L303.4 296.6 L303.1 297.3 L303.4 298.0 L304.0 298.7 L304.3 299.4 L304.3 300.1 L304.6 300.8 L305.2 301.5" stroke="#3a3af0" stroke-width="1.3"/><path d="M305.2 10.0 L305.9 10.7 L307.1 11.4 L308.1 12.1 L308.5 12.8 L308.2 13.5 L307.8 14.2 L307.7 14.9 L307.8 15.6 L308.0 16.3 L307.8 17.0 L307.3 17.7 L307.0 18.4 L307.2 19.1 L307.9 19.8 L308.5 20.5 L308.5 21.2 L307.8 21.9 L306.7 22.6 L305.8 23.3 L305.5 24.0 L305.6 24.7 L305.7 25.4 L305.6 26.1 L305.4 26.8 L305.4 27.5 L305.9 28.2 L306.6 28.9 L307.0 29.6 L306.7 30.3 L305.9 31.0 L305.2 31.7 L305.1 32.4 L305.7 33.1 L306.4 33.8 L307.0 34.5 L307.1 35.2 L307.0 35.9 L307.1 36.6 L307.3 37.3 L307.5 38.0 L307.2 38.7 L306.4 39.4 L305.4 40.1 L304.8 40.8 L304.9 41.5 L305.5 42.2 L306.1 42.9 L306.1 43.6 L305.6 44.3 L305.1 45.0 L304.8 45.7 L304.8 46.4 L304.8 47.1 L304.4 47.8 L303.9 48.5 L303.6 49.2 L304.0 49.9 L305.0 50.6 L306.1 51.3 L306.7 52.0 L306.7 52.7 L306.3 53.4 L306.0 54.1 L306.1 54.8 L306.5 55.5 L306.7 56.2 L306.7 56.9 L306.5 57.6 L306.6 58.3 L307.2 59.0 L308.0 59.7 L308.5 60.4 L308.2 61.1 L307.2 61.8 L306.2 62.5 L305.7 63.2 L305.8 63.9 L306.1 64.6 L306.2 65.3 L306.0 66.0 L305.9 66.7 L306.1 67.4 L306.6 68.1 L307.1 68.8 L307.1 69.5 L306.5 70.2 L305.7 70.9 L305.3 71.6 L305.6 72.3 L306.5 73.0 L307.4 73.7 L307.8 74.4 L307.9 75.1 L307.9 75.8 L308.1 76.5 L308.4 77.2 L308.5 77.9 L308.0 78.6 L307.2 79.3 L306.5 80.0 L306.4 80.7 L306.9 81.4 L307.6 82.1 L307.9 82.8 L307.5 83.5 L306.8 84.2 L306.1 84.9 L305.8 85.6 L305.7 86.3 L305.4 87.0 L304.8 87.7 L304.2 88.4 L304.1 89.1 L304.6 89.8 L305.6 90.5 L306.3 91.2 L306.4 91.9 L305.9 92.6 L305.2 93.3 L305.0 94.0 L305.3 94.7 L305.7 95.4 L305.9 96.1 L305.8 96.8 L305.8 97.5 L306.2 98.2 L307.0 98.9 L307.6 99.6 L307.7 100.3 L307.0 101.0 L306.0 101.7 L305.2 102.4 L305.0 103.1 L305.3 103.8 L303.6 107.0 L303.0 112.0 L302.9 156.0 L306.2 158.0 L306.7 158.7 L306.7 159.4 L306.6 160.1 L306.8 160.8 L307.1 161.5 L307.1 162.2 L306.6 162.9 L305.5 163.6 L304.6 164.3 L304.4 165.0 L305.0 165.7 L305.9 166.4 L306.4 167.1 L306.2 167.8 L305.6 168.5 L305.2 169.2 L305.1 169.9 L305.2 170.6 L305.2 171.3 L304.9 172.0 L304.4 172.7 L304.5 173.4 L305.3 174.1 L306.7 174.8 L307.8 175.5 L308.1 176.2 L307.7 176.9 L307.1 177.6 L306.8 178.3 L307.0 179.0 L307.4 179.7 L307.5 180.4 L307.3 181.1 L307.1 181.8 L307.3 182.5 L307.9 183.2 L308.5 183.9 L308.5 184.6 L307.6 185.3 L306.3 186.0 L305.2 186.7 L304.8 187.4 L305.0 188.1 L305.3 188.8 L305.3 189.5 L305.1 190.2 L304.9 190.9 L305.2 191.6 L305.7 192.3 L306.0 193.0 L305.6 193.7 L304.8 194.4 L304.0 195.1 L303.9 195.8 L304.6 196.5 L305.7 197.2 L306.5 197.9 L306.7 198.6 L306.5 199.3 L306.4 200.0 L306.6 200.7 L306.8 201.4 L306.6 202.1 L305.8 202.8 L304.9 203.5 L304.4 204.2 L304.6 204.9 L305.4 205.6 L306.1 206.3 L306.1 207.0 L305.5 207.7 L304.6 208.4 L304.1 209.1 L304.0 209.8 L303.9 210.5 L303.7 211.2 L303.2 211.9 L303.2 212.6 L303.3 213.3 L304.3 214.0 L305.5 214.7 L306.2 215.4 L306.0 216.1 L305.4 216.8 L304.9 217.5 L305.0 218.2 L305.6 218.9 L306.2 219.6 L306.4 220.3 L306.4 221.0 L306.6 221.7 L307.2 222.4 L308.0 223.1 L308.5 223.8 L308.2 224.5 L307.1 225.2 L306.0 225.9 L305.4 226.6 L305.5 227.3 L306.0 228.0 L306.3 228.7 L306.2 229.4 L305.9 230.1 L305.9 230.8 L306.2 231.5 L306.5 232.2 L306.4 232.9 L305.7 233.6 L304.8 234.3 L304.3 235.0 L304.7 235.7 L305.8 236.4 L306.9 237.1 L307.5 237.8 L307.5 238.5 L307.3 239.2 L307.3 239.9 L307.6 240.6 L307.7 241.3 L307.4 242.0 L306.7 242.7 L306.1 243.4 L306.1 244.1 L306.8 244.8 L307.7 245.5 L308.0 246.2 L307.6 246.9 L306.6 247.6 L305.6 248.3 L305.1 249.0 L304.9 249.7 L304.7 250.4 L304.2 251.1 L303.7 251.8 L303.5 252.5 L304.0 253.2 L304.9 253.9 L305.6 254.6 L305.5 255.3 L304.8 256.0 L304.0 256.7 L303.6 257.4 L303.9 258.1 L304.6 258.8 L305.1 259.5 L305.3 260.2 L305.4 260.9 L305.7 261.6 L306.5 262.3 L307.2 263.0 L307.3 263.7 L306.6 264.4 L305.5 265.1 L304.6 265.8 L304.6 266.5 L305.1 267.2 L305.7 267.9 L305.9 268.6 L305.6 269.3 L305.2 270.0 L305.1 270.7 L305.3 271.4 L305.4 272.1 L304.9 272.8 L304.0 273.5 L303.2 274.2 L303.2 274.9 L304.1 275.6 L305.3 276.3 L306.2 277.0 L306.5 277.7 L306.3 278.4 L306.1 279.1 L306.3 279.8 L306.8 280.5 L307.0 281.2 L306.7 281.9 L306.3 282.6 L306.3 283.3 L307.0 284.0 L308.1 284.7 L308.9 285.4 L309.0 286.1 L308.3 286.8 L307.3 287.5 L306.6 288.2 L306.4 288.9 L306.4 289.6 L306.2 290.3 L305.8 291.0 L305.3 291.7 L305.4 292.4 L306.0 293.1 L306.7 293.8 L306.9 294.5 L306.2 295.2 L305.2 295.9 L304.4 296.6 L304.3 297.3 L304.9 298.0 L305.6 298.7 L306.0 299.4 L306.0 300.1 L306.2 300.8 L306.7 301.5" stroke="#f5841a" stroke-width="1.8"/><line x1="302.7" y1="9.5" x2="302.7" y2="302.2" stroke="#e02020" stroke-width="1.4"/><line x1="302.7" y1="9.5" x2="302.7" y2="302.2" stroke="#800a80" stroke-width="1.9"/><path d="M345.5 10.4 L331.8 10.2 L322.3 13.9 L321.7 15.2 L325.9 16.9 L334.2 19.3 L328.3 20.5 L319.9 22.8 L325.9 24.0 L330.6 25.2 L327.1 27.0 L331.8 28.2 L348.4 30.0 L333.0 30.6 L325.9 31.2 L334.2 32.9 L337.8 34.7 L323.5 35.9 L331.8 37.7 L329.4 39.5 L341.3 40.7 L335.0 42.0 L342.5 43.6 L324.7 44.2 L341.5 45.2 L323.0 46.0 L324.0 48.4 L331.5 50.9 L314.0 52.8 L312.8 54.0 L320.2 55.9 L315.2 57.8 L324.0 58.4 L325.2 60.2 L330.2 64.0 L317.8 65.2 L316.5 67.1 L324.0 69.0 L321.5 70.9 L319.0 74.0 L324.0 75.2 L317.8 77.1 L329.5 80.1 L320.8 80.6 L317.0 81.9 L322.0 83.1 L310.8 85.6 L318.2 86.9 L320.8 88.1 L317.0 90.0 L324.5 91.2 L320.8 92.5 L313.2 94.4 L319.5 95.6 L314.5 97.5 L318.2 98.8 L309.5 100.6 L312.0 101.9 L305.8 103.8 L308.9 105.0 L304.5 107.5 L307.6 109.4 L304.5 111.2 L307.0 112.5 L303.9 114.4 L303.1 117.0 L303.1 156.0 L303.9 158.4 L307.0 160.2 L305.1 162.1 L308.9 163.4 L307.0 165.2 L310.8 167.1 L307.6 168.4 L309.5 170.2 L307.0 171.5 L318.2 176.5 L309.5 178.4 L314.5 179.6 L308.2 181.5 L307.0 184.0 L327.0 187.8 L311.5 188.6 L309.0 191.1 L311.5 192.4 L306.5 194.9 L316.5 198.0 L314.0 199.9 L331.6 201.7 L309.0 204.2 L334.3 208.2 L321.5 211.1 L339.6 213.0 L331.7 214.6 L349.2 217.3 L321.5 219.8 L334.0 222.5 L330.5 224.5 L339.0 226.2 L326.5 227.9 L332.8 229.1 L327.8 231.0 L326.5 232.9 L315.2 237.2 L322.8 238.5 L320.2 240.4 L329.0 242.2 L321.5 244.1 L334.0 245.4 L309.0 247.2 L316.5 248.5 L307.8 251.0 L314.0 252.9 L309.0 256.0 L320.2 259.8 L309.0 262.2 L310.2 265.8 L309.0 268.2 L325.2 271.4 L311.5 273.9 L320.2 276.4 L317.8 278.9 L326.5 281.4 L322.8 282.6 L335.9 283.9 L329.0 285.8 L335.2 287.6 L325.2 289.5 L335.2 292.6 L319.0 295.1 L331.5 297.0 L326.5 298.9 L326.0 302.5" stroke="#1a1a1a" stroke-width="2.35"/></g><g stroke="#111" stroke-width="1.1"><line x1="302.5" y1="277.8" x2="306.0" y2="277.8"/><line x1="302.5" y1="253.4" x2="309.5" y2="253.4"/><line x1="302.5" y1="229.0" x2="306.0" y2="229.0"/><line x1="302.5" y1="204.6" x2="309.5" y2="204.6"/><line x1="302.5" y1="180.2" x2="306.0" y2="180.2"/><line x1="302.5" y1="155.8" x2="309.5" y2="155.8"/><line x1="302.5" y1="131.5" x2="306.0" y2="131.5"/><line x1="302.5" y1="107.1" x2="309.5" y2="107.1"/><line x1="302.5" y1="82.7" x2="306.0" y2="82.7"/><line x1="302.5" y1="58.3" x2="309.5" y2="58.3"/><line x1="302.5" y1="33.9" x2="306.0" y2="33.9"/></g><g font-weight="bold" font-size="8" fill="#000"><line x1="314.5" y1="119.9" x2="331.8" y2="119.9" stroke="#000" stroke-width="1.8"/><text x="333.4" y="122.6">Total</text><line x1="314.5" y1="129.6" x2="331.8" y2="129.6" stroke="#ee2222" stroke-width="1.8"/><text x="333.4" y="132.3">As_s</text><line x1="314.5" y1="139.2" x2="331.8" y2="139.2" stroke="#2222ee" stroke-width="1.8"/><text x="333.4" y="141.9">As_p</text><line x1="314.5" y1="148.9" x2="331.8" y2="148.9" stroke="#8a18a0" stroke-width="1.8"/><text x="333.4" y="151.6">P_s</text><line x1="314.5" y1="158.3" x2="331.8" y2="158.3" stroke="#f7901e" stroke-width="1.8"/><text x="333.4" y="161.0">P_p</text></g></svg></body></html>
